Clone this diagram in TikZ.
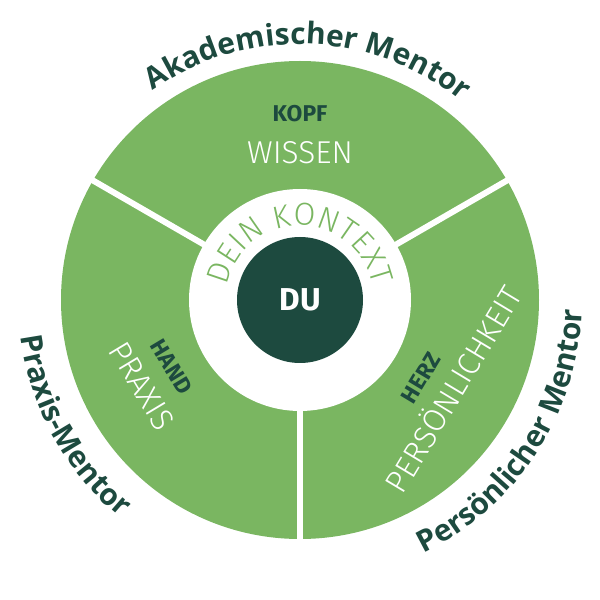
\documentclass[tikz,border=0pt]{standalone}
\usepackage{fontspec}
\usepackage{tikz}
\usetikzlibrary{decorations.text}
\newfontfamily\mentorfont{Open Sans}
\newfontfamily\thinfont{Fira Sans Light}
\newfontfamily\headfont{Fira Sans}
\definecolor{ringgreen}{HTML}{7AB661}
\definecolor{deepgreen}{HTML}{1D4A3F}
\tikzset{
    head/.style={font=\headfont\bfseries\fontsize{13}{13}\selectfont, text=deepgreen},
    field/.style={font=\thinfont\fontsize{18}{18}\selectfont, text=white},
    divider/.style={draw=white, line width=0.12cm}
}
\newcommand{\arclabel}[4]{
    \path[decorate, decoration={text along path, text color=deepgreen,
        text align=center, text={|\mentorfont\bfseries\fontsize{17}{17}\selectfont|#4}}]
        (C) ++(#1:#3) arc[start angle=#1, end angle=#2, radius=#3];
}

\begin{document}
\begin{tikzpicture}
    \useasboundingbox (0,0) rectangle (12,12);
    \coordinate (C) at (6,6);
    \fill[ringgreen] (C) circle[radius=4.78];
    \foreach \a in {30,150,270}
        \draw[divider] (C) -- ++(\a:5);
    \fill[white] (C) circle[radius=2.22];
    \node[circle, fill=deepgreen, minimum size=2.52cm, inner sep=0pt, text=white,
        font=\headfont\bfseries\fontsize{18}{18}\selectfont] (du) at (C) {DU};
    \node[head] (kopf) at (6,9.72) {KOPF};
    \node[field] (wissen) at (6,8.95) {WISSEN};
    \node[head, rotate=-59] (hand) at (3.43,4.66) {HAND};
    \node[field, rotate=-59] (praxis) at (2.84,4.28) {PRAXIS};
    \node[head, rotate=59] (herz) at (8.42,4.44) {HERZ};
    \node[field, rotate=59] (persoenlich) at (9.03,4.23) {PERSÖNLICHKEIT};
    \path[decorate, decoration={text along path, text color=ringgreen,
        text align=fit to path, text={|\thinfont\fontsize{18}{18}\selectfont|DEIN KONTEXT}}]
        (C) ++(169:1.49) arc[start angle=169, end angle=11, radius=1.49];
    \arclabel{178}{-2}{5.12}{Akademischer Mentor}
    \arclabel{119}{299}{5.64}{Praxis-Mentor}
    \arclabel{237}{417}{5.64}{Persönlicher Mentor}
\end{tikzpicture}
\end{document}
